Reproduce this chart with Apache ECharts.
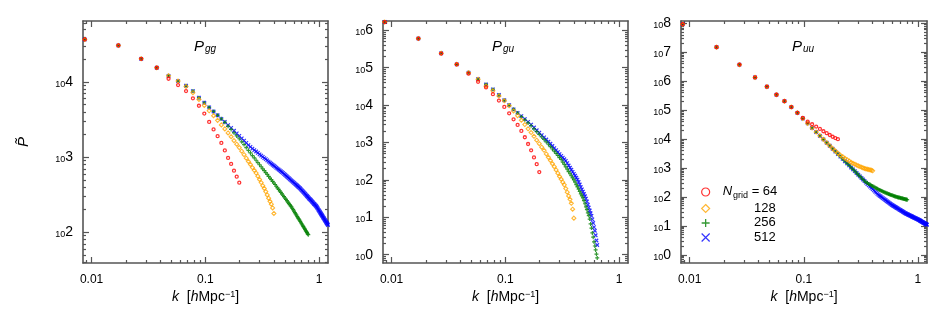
<!DOCTYPE html>
<html><head><meta charset="utf-8">
<script src="https://cdn.jsdelivr.net/npm/echarts@6/dist/echarts.min.js"></script>
<style>html,body{margin:0;padding:0;background:#fff}#c{width:948px;height:316px}</style>
</head><body><div id="c"></div>
<script>
// k bins [h/Mpc]
const kBins = [0.0087,0.0172,0.0273,0.0374,0.0475,0.0576,0.0677,0.0778,0.0879,0.0980,
0.1081,0.1182,0.1283,0.1384,0.1485,0.1586,0.1687,0.1788,0.1889,0.1990,
0.2091,0.2192,0.2293,0.2394,0.2495,0.2596,0.2697,0.2798,0.2899,0.3000,
0.3101,0.3202,0.3303,0.3404,0.3505,0.3606,0.3707,0.3808,0.3909,0.4010,
0.4111,0.4212,0.4313,0.4414,0.4515,0.4616,0.4717,0.4818,0.4919,0.5020,
0.5121,0.5222,0.5323,0.5424,0.5525,0.5626,0.5727,0.5828,0.5929,0.6030,
0.6131,0.6232,0.6333,0.6434,0.6535,0.6636,0.6737,0.6838,0.6939,0.7040,
0.7141,0.7242,0.7343,0.7444,0.7545,0.7646,0.7747,0.7848,0.7949,0.8050,
0.8151,0.8252,0.8353,0.8454,0.8555,0.8656,0.8757,0.8858,0.8959,0.9060,
0.9161,0.9262,0.9363,0.9464,0.9565,0.9666,0.9767,0.9868,0.9969,1.0070,
1.0171,1.0272,1.0373,1.0474,1.0575,1.0676,1.0777,1.0878,1.0979,1.1080,
1.1181,1.1282,1.1383,1.1484,1.1585,1.1686,1.1787,1.1888,1.1989];

// Panel 1: P_gg
const p1Red = [36900,30700,20400,15500,11070,9120,7590,6080,4840,3800,2950,2340,1905,1550,1230,977,813,661,550,457];
const p1Orange = [36900,30700,20400,15500,12100,10300,8710,7210,5870,4890,4140,3560,3090,2690,2380,2100,1870,1660,1490,1340,
1200,1080,968,877,800,728,668,614,558,505,459,418,383,348,314,284,258,237,211,178];
const p1Green = [36900,30700,20400,15500,12100,10300,8930,7590,6190,5300,
4610,4060,3610,3240,2910,2590,2340,2110,1920,1760,
1600,1470,1340,1230,1140,1050,979,910,847,793,
745,700,661,624,589,556,527,501,475,453,
433,410,391,372,356,339,325,311,298,286,
274,264,252,243,234,225,218,208,200,191,
183,176,169,162,156,151,145,140,134,130,
125,121,117,113,109,105,102,98.9,95.5,92.9];
const p1Blue = [36900,30700,20400,15500,12100,10300,8930,7590,6190,5300,
4610,4060,3610,3240,2940,2670,2450,2250,2070,1920,
1780,1660,1550,1450,1370,1300,1240,1190,1140,1090,
1050,1010,973,940,906,873,845,818,793,769,
748,724,705,685,667,649,632,617,600,583,
568,553,538,525,512,499,488,476,466,454,
445,435,426,416,407,400,391,383,372,364,
356,348,340,332,324,317,310,304,297,291,
284,279,274,269,264,258,253,248,243,238,
235,230,226,222,217,211,207,200,196,191,
187,182,178,174,170,166,162,158,155,152,
148,145,142,139,136,133,131,128,125];

// Panel 2: P_gu
const p2Red = [1660000,601000,239000,122000,69200,41800,29600,19600,13200,8910,6030,4170,2950,2040,1380,912,617,398,263,162];
const p2Orange = [1660000,601000,243000,123000,73300,49300,32100,24000,17500,13000,
9590,6980,5200,3930,3010,2320,1840,1460,1150,929,
750,617,494,400,331,270,226,185,151,124,
104,86.9,73.6,58.7,46.8,37.3,30.3,23.7,16.5,9.5];
const p2Green = [1660000,601000,243000,123000,73300,49300,35600,26200,18600,13500,
10000,7710,6100,4910,4040,3340,2800,2310,1940,1650,
1400,1210,1040,897,778,670,586,513,449,395,
351,300,259,224,194,167,146,129,113,100,
86.9,74.5,64.7,56.2,48.9,42.5,37.4,33.0,27.8,23.0,
19.0,16.0,13.2,11.1,8.95,6.65,5.14,3.83,2.95,2.20,
1.71,1.34,1.04,0.82];
const p2Blue = [1660000,601000,243000,123000,73300,49300,35600,26200,18600,13500,
10000,7710,6190,5070,4230,3550,3010,2520,2130,1830,
1580,1370,1200,1050,925,804,708,625,552,490,
440,394,356,321,280,242,211,187,164,145,
129,114,102,88.1,75.3,64.3,55.8,48.4,42.0,36.5,
31.6,26.5,21.7,18.2,15.2,12.8,10.9,8.81,7.05,5.47,
4.38,3.31,2.40,1.82];

// Panel 3: P_uu
const p3Red = [92500000,15000000,3720000,1350000,646000,339000,204000,127000,80400,53700,39800,32400,26900,22400,18600,16000,13800,12000,10800,9890];
const p3Orange = [92500000,15000000,3720000,1350000,646000,339000,204000,127000,80400,51200,
34800,24300,17400,12900,9750,7460,5870,4670,3870,3260,
2750,2440,2160,1930,1750,1570,1450,1350,1260,1180,
1120,1060,1010,964,931,904,881,861,839,800];
const p3Green = [92500000,15000000,3720000,1350000,646000,339000,204000,127000,80400,51200,
34800,24300,17400,12900,9750,7460,5870,4620,3710,3030,
2470,2060,1710,1440,1230,1040,897,774,668,582,
512,450,399,354,322,301,282,266,249,236,
224,212,201,191,182,174,167,161,155,149,
143,139,134,130,126,123,119,116,113,111,
108,106,104,102,99.8,97.9,96.2,94.6,93.1,91.6,
90.4,89.1,87.9,86.7,85.3,84.1,83.0,82.0,80.9,79.8];
const p3Blue = [92500000,15000000,3720000,1350000,646000,339000,204000,127000,80400,51200,
34800,24300,17400,12900,9750,7460,5870,4620,3710,3030,
2470,2060,1710,1440,1230,1040,897,774,668,582,
512,450,399,354,313,279,251,227,204,185,
169,153,140,128,117,110,103,96.8,91.2,85.7,
80.7,76.4,71.9,68.1,64.6,61.1,58.2,55.2,52.7,50.4,
48.4,46.6,44.8,43.1,41.4,40.0,38.5,37.2,35.7,34.6,
33.4,32.3,31.2,30.2,29.2,28.2,27.3,26.7,25.9,25.4,
24.7,24.2,23.6,23.1,22.6,22.0,21.5,21.0,20.6,20.1,
19.7,19.3,18.9,18.5,18.1,17.7,17.4,17.0,16.7,16.4,
16.0,15.7,15.3,15.0,14.7,14.3,14.0,13.7,13.4,13.1,
12.9,12.6,12.3,12.1,11.8,11.6,11.4,11.1,10.9];

// ticks / labels
const xMajor = [0.01, 0.1, 1];
const yMajor1 = [100, 1000, 10000];
const yMajor2 = [1, 10, 100, 1000, 10000, 100000, 1000000];
const yMajor3 = [1, 10, 100, 1000, 10000, 100000, 1000000, 10000000, 100000000];
const panelSubs = ['gg', 'gu', 'uu'];
const gridNames = ['64', '128', '256', '512'];

const FONT = '"Liberation Sans", Arial, Helvetica, sans-serif';
const AX = '#555555';
const grids = [
  {left: 83, top: 21, width: 245, height: 242},
  {left: 383, top: 21, width: 245, height: 242},
  {left: 681, top: 21, width: 246, height: 242}
];
const X_RANGE = [0.0084, 1.2];
const yRanges = [[39, 65000], [0.6, 1.77e6], [0.52, 1.2e8]];
const yMajors = [yMajor1, yMajor2, yMajor3];
const panelData = [
  [p1Blue, p1Green, p1Orange, p1Red],
  [p2Blue, p2Green, p2Orange, p2Red],
  [p3Blue, p3Green, p3Orange, p3Red]
];

function minorTicks(lo, hi) {
  const out = [];
  for (let e = -3; e <= 9; e++) {
    for (let m = 2; m <= 9; m++) {
      const v = +(m * Math.pow(10, e)).toPrecision(3);
      if (v > lo * 1.0001 && v < hi * 0.9999) out.push(v);
    }
  }
  return out;
}
function expOf(v) { return Math.round(Math.log(v) / Math.LN10); }
function fmtX(v) {
  const e = expOf(v);
  return e >= 0 ? String(Math.pow(10, e)) : Math.pow(10, e).toFixed(-e);
}
function fmtY(v) { return '{s|10}{b|' + expOf(v) + '}'; }

const lineStyle = {color: AX, width: 1.6};
const tickStyle = {color: AX, width: 1.2};

const xAxes = [], yAxes = [];
grids.forEach((g, i) => {
  const xMinor = minorTicks(X_RANGE[0], X_RANGE[1]);
  const yMinor = minorTicks(yRanges[i][0], yRanges[i][1]);
  const bx = {type: 'log', logBase: 10, gridIndex: i, min: X_RANGE[0], max: X_RANGE[1],
    splitLine: {show: false}, axisLine: {show: false}, axisLabel: {show: false}, axisTick: {show: false}, silent: true};
  const by = {type: 'log', logBase: 10, gridIndex: i, min: yRanges[i][0], max: yRanges[i][1],
    splitLine: {show: false}, axisLine: {show: false}, axisLabel: {show: false}, axisTick: {show: false}, silent: true};
  xAxes.push(Object.assign({}, bx, {
    position: 'bottom',
    axisLine: {show: true, onZero: false, lineStyle: lineStyle},
    axisTick: {show: true, inside: true, length: 6, customValues: xMajor, lineStyle: tickStyle},
    axisLabel: {show: true, customValues: xMajor, margin: 11, color: '#000', fontSize: 12, fontFamily: FONT, formatter: fmtX},
    name: '{i|k}{t|  [}{i|h}{t|Mpc}{u|\u22121}{t|]}',
    nameLocation: 'middle', nameGap: 27, nameMoveOverlap: false,
    nameTextStyle: {color: '#000', fontFamily: FONT, rich: {
      i: {fontStyle: 'italic', fontSize: 14, lineHeight: 16, verticalAlign: 'top', fontFamily: FONT, color: '#000'},
      t: {fontSize: 14, lineHeight: 16, verticalAlign: 'top', fontFamily: FONT, color: '#000'},
      u: {fontSize: 9, lineHeight: 9, verticalAlign: 'top', fontFamily: FONT, color: '#000'}
    }}
  }));
  xAxes.push(Object.assign({}, bx, {
    position: 'top',
    axisLine: {show: true, onZero: false, lineStyle: lineStyle},
    axisTick: {show: true, inside: true, length: 6, customValues: xMajor, lineStyle: tickStyle}
  }));
  xAxes.push(Object.assign({}, bx, {
    position: 'bottom',
    axisTick: {show: true, inside: true, length: 3, customValues: xMinor, lineStyle: tickStyle}
  }));
  xAxes.push(Object.assign({}, bx, {
    position: 'top',
    axisTick: {show: true, inside: true, length: 3, customValues: xMinor, lineStyle: tickStyle}
  }));
  const yMain = Object.assign({}, by, {
    position: 'left',
    axisLine: {show: true, onZero: false, lineStyle: lineStyle},
    axisTick: {show: true, inside: true, length: 6, customValues: yMajors[i], lineStyle: tickStyle},
    axisLabel: {show: true, customValues: yMajors[i], margin: 10, color: '#000', fontFamily: FONT, formatter: fmtY,
      rich: {
        s: {fontSize: 9, lineHeight: 9, padding: [5, 0, 0, 0], verticalAlign: 'top', fontFamily: FONT, color: '#000'},
        b: {fontSize: 14, lineHeight: 14, verticalAlign: 'top', fontFamily: FONT, color: '#000'}
      }}
  });
  if (i === 0) {
    Object.assign(yMain, {
      name: 'P\u0303', nameLocation: 'middle', nameRotate: 90, nameGap: 52, nameMoveOverlap: false,
      nameTextStyle: {fontStyle: 'italic', fontSize: 15, fontFamily: FONT, color: '#000'}
    });
  }
  yAxes.push(yMain);
  yAxes.push(Object.assign({}, by, {
    position: 'right',
    axisLine: {show: true, onZero: false, lineStyle: lineStyle},
    axisTick: {show: true, inside: true, length: 6, customValues: yMajors[i], lineStyle: tickStyle}
  }));
  yAxes.push(Object.assign({}, by, {
    position: 'left',
    axisTick: {show: true, inside: true, length: 3, customValues: yMinor, lineStyle: tickStyle}
  }));
  yAxes.push(Object.assign({}, by, {
    position: 'right',
    axisTick: {show: true, inside: true, length: 3, customValues: yMinor, lineStyle: tickStyle}
  }));
});

const SYM_PLUS = 'path://M5,0L5,10M0,5L10,5';
const SYM_CROSS = 'path://M0,0L10,10M10,0L0,10';
const CLEAR = 'rgba(0,0,0,0)';
// order: 512 (blue), 256 (green), 128 (orange), 64 (red) -> red drawn on top
const styles = [
  {name: '512', symbol: SYM_CROSS, symbolSize: 3.5, itemStyle: {color: CLEAR, borderColor: '#0000ff', borderWidth: 1.2}},
  {name: '256', symbol: SYM_PLUS, symbolSize: 4, itemStyle: {color: CLEAR, borderColor: '#008000', borderWidth: 1.2}},
  {name: '128', symbol: 'diamond', symbolSize: 4, itemStyle: {color: CLEAR, borderColor: '#ffa500', borderWidth: 1.1}},
  {name: '64', symbol: 'circle', symbolSize: 3, itemStyle: {color: CLEAR, borderColor: '#ff0000', borderWidth: 1.3}}
];

const series = [];
panelData.forEach((arrs, i) => {
  arrs.forEach((vals, j) => {
    const st = styles[j];
    series.push({
      type: 'scatter', name: st.name, xAxisIndex: i * 4, yAxisIndex: i * 4,
      symbol: st.symbol, symbolSize: st.symbolSize, itemStyle: st.itemStyle,
      silent: true, clip: true,
      data: vals.map((v, n) => [kBins[n], v])
    });
  });
});

const titleLeft = [194, 492, 792];
const titles = panelSubs.map((s, i) => ({
  text: '{p|P}{s|' + s + '}', left: titleLeft[i], top: 39, padding: 0,
  textStyle: {fontWeight: 'normal', rich: {
    p: {fontStyle: 'italic', fontWeight: 'normal', fontSize: 15, lineHeight: 16, verticalAlign: 'top', fontFamily: FONT, color: '#000'},
    s: {fontStyle: 'italic', fontWeight: 'normal', fontSize: 10, lineHeight: 10, padding: [5, 0, 0, 1], verticalAlign: 'top', fontFamily: FONT, color: '#000'}
  }}
}));

const chart = echarts.init(document.getElementById('c'), null, {renderer: 'canvas'});
chart.setOption({
  animation: false,
  backgroundColor: '#fff',
  title: titles,
  grid: grids.map(g => Object.assign({outerBoundsMode: 'none', containLabel: false}, g)),
  xAxis: xAxes,
  yAxis: yAxes,
  legend: {
    orient: 'vertical', left: 701, top: 185, itemWidth: 8, itemHeight: 8, itemGap: 1.5,
    selectedMode: false, padding: 0,
    data: [
      {name: '64', icon: 'circle', itemStyle: {color: CLEAR, borderColor: '#ff0000', borderWidth: 1.2}},
      {name: '128', icon: 'diamond', itemStyle: {color: CLEAR, borderColor: '#ffa500', borderWidth: 1.2}},
      {name: '256', icon: SYM_PLUS, itemStyle: {color: CLEAR, borderColor: '#008000', borderWidth: 1.3}},
      {name: '512', icon: SYM_CROSS, itemStyle: {color: CLEAR, borderColor: '#0000ff', borderWidth: 1.2}}
    ],
    formatter: function (name) {
      return name === gridNames[0] ? '{n|N}{g|grid}{e| = ' + name + '}' : '{r|' + name + '}';
    },
    textStyle: {color: '#000', fontFamily: FONT, fontSize: 13, rich: {
      n: {fontStyle: 'italic', fontSize: 13, lineHeight: 14, padding: [0, 0, 0, 8], verticalAlign: 'top', fontFamily: FONT, color: '#000'},
      g: {fontSize: 9, lineHeight: 9, padding: [6, 0, 0, 1], verticalAlign: 'top', fontFamily: FONT, color: '#000'},
      e: {fontSize: 13, lineHeight: 14, verticalAlign: 'top', fontFamily: FONT, color: '#000'},
      r: {fontSize: 13, lineHeight: 14, width: 61, align: 'right', verticalAlign: 'top', fontFamily: FONT, color: '#000'}
    }}
  },
  series: series
});
</script>
</body></html>
